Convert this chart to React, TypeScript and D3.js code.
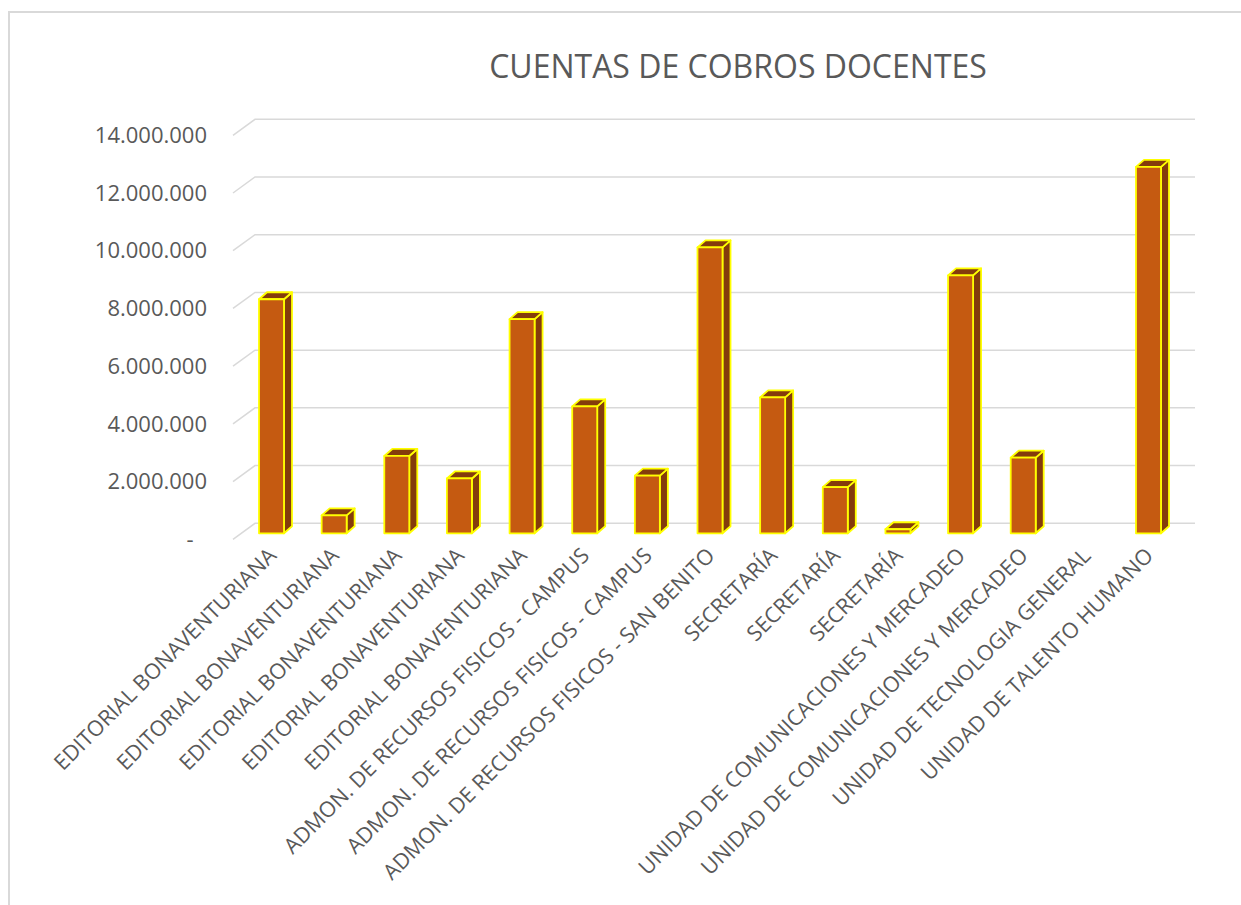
import React from 'react';
import * as d3 from 'd3';

const categories = [
  'EDITORIAL BONAVENTURIANA',
  'EDITORIAL BONAVENTURIANA',
  'EDITORIAL BONAVENTURIANA',
  'EDITORIAL BONAVENTURIANA',
  'EDITORIAL BONAVENTURIANA',
  'ADMON. DE RECURSOS FISICOS - CAMPUS',
  'ADMON. DE RECURSOS FISICOS - CAMPUS',
  'ADMON. DE RECURSOS FISICOS - SAN BENITO',
  'SECRETARÍA',
  'SECRETARÍA',
  'SECRETARÍA',
  'UNIDAD DE COMUNICACIONES Y MERCADEO',
  'UNIDAD DE COMUNICACIONES Y MERCADEO',
  'UNIDAD DE TECNOLOGIA GENERAL',
  'UNIDAD DE TALENTO HUMANO',
];

const values = [
  8110000, 620000, 2680000, 1900000, 7420000, 4400000, 2000000, 9910000,
  4710000, 1600000, 140000, 8940000, 2620000, 0, 12700000,
];

const yTicks = [0, 2000000, 4000000, 6000000, 8000000, 10000000, 12000000, 14000000];

const title = 'CUENTAS DE COBROS DOCENTES';

const W = 1241;
const H = 905;
const FONT = "'Open Sans', sans-serif";
const TEXT = '#595959';

// back wall & floor offset of the 3D plot
const wallLeft = 255;
const wallRight = 1195;
const depthX = -22;
const depthY = 16;

// bar box
const barW = 25;
const barDX = 8;
const barDY = -7;

const fmt = (v: number) =>
  v === 0 ? '-' : d3.format(',')(v).replace(/,/g, '.');

export default function App() {
  // gridlines on the back wall
  const yScale = d3.scaleLinear().domain([0, 14000000]).range([523.3, 119.3]);
  // front face of the bars sits a bit in front of the wall
  const barY = d3.scaleLinear().domain([0, 14000000]).range([533.3, 129.3]);
  const xScale = d3
    .scalePoint<number>()
    .domain(categories.map((_, i) => i))
    .range([271.5, 1148.5]);

  const y0 = barY(0);

  return (
    <svg
      width={W}
      height={H}
      style={{ position: 'absolute', left: 0, top: 0, background: '#fff' }}
    >
      {/* chart border */}
      <path d={`M9,${H} V12 H${W}`} fill="none" stroke="#d9d9d9" strokeWidth={2} />

      <text
        x={738}
        y={78}
        textAnchor="middle"
        fontFamily={FONT}
        fontSize={32}
        fill={TEXT}
      >
        {title}
      </text>

      {/* gridlines */}
      {yTicks.map((t) => (
        <g key={t}>
          <path
            d={`M${wallLeft + depthX},${yScale(t) + depthY} L${wallLeft},${yScale(t)} H${wallRight}`}
            fill="none"
            stroke="#d9d9d9"
            strokeWidth={1.5}
          />
          <text
            x={t === 0 ? 190 : 207}
            y={yScale(t) + depthY}
            dy="0.35em"
            textAnchor={t === 0 ? 'middle' : 'end'}
            fontFamily={FONT}
            fontSize={22}
            fill={TEXT}
          >
            {fmt(t)}
          </text>
        </g>
      ))}

      {/* bars */}
      {values.map((v, i) => {
        if (v <= 0) return null;
        const x = (xScale(i) as number) - barW / 2;
        const y = barY(v);
        const pts = (p: number[][]) => p.map((q) => q.join(',')).join(' ');
        return (
          <g key={i} stroke="#ffff00" strokeWidth={1.8} strokeLinejoin="round">
            <polygon
              points={pts([
                [x + barW, y],
                [x + barW + barDX, y + barDY],
                [x + barW + barDX, y0 + barDY],
                [x + barW, y0],
              ])}
              fill="#843c0c"
            />
            <polygon
              points={pts([
                [x, y],
                [x + barDX, y + barDY],
                [x + barW + barDX, y + barDY],
                [x + barW, y],
              ])}
              fill="#843c0c"
            />
            <rect x={x} y={y} width={barW} height={y0 - y} fill="#c55a11" />
          </g>
        );
      })}

      {/* category labels */}
      {categories.map((c, i) => (
        <text
          key={i}
          transform={`translate(${(xScale(i) as number) + 6},557) rotate(-45)`}
          textAnchor="end"
          fontFamily={FONT}
          fontSize={21.5}
          fill={TEXT}
        >
          {c}
        </text>
      ))}
    </svg>
  );
}
